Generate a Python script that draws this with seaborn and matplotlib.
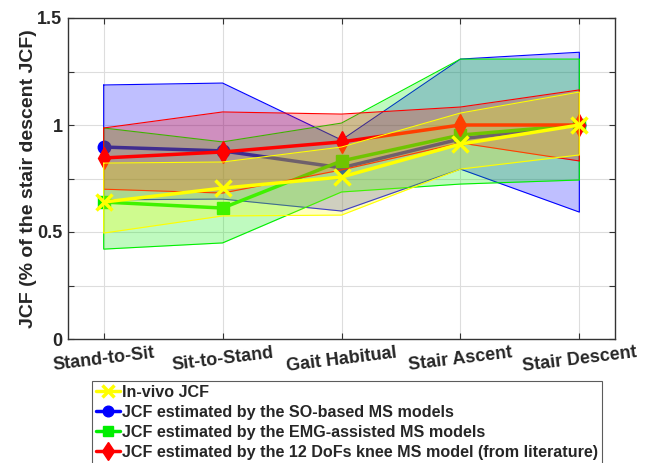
import numpy as np
import matplotlib
matplotlib.use("Agg")
import matplotlib.pyplot as plt
import seaborn as sns

tasks = ["Stand-to-Sit", "Sit-to-Stand", "Gait Habitual", "Stair Ascent", "Stair Descent"]

# in-vivo JCF (normalised to stair descent)
invivo_mean = [0.64, 0.705, 0.757, 0.911, 1.0]
invivo_low = [0.495, 0.575, 0.579, 0.794, 0.86]
invivo_high = [0.822, 0.827, 0.897, 1.056, 1.154]

# SO-based MS models
so_mean = [0.897, 0.879, 0.80, 0.935, 1.0]
so_low = [0.65, 0.654, 0.598, 0.794, 0.593]
so_high = [1.187, 1.196, 0.93, 1.308, 1.34]

# EMG-assisted MS models
emg_mean = [0.64, 0.612, 0.832, 0.953, 1.0]
emg_low = [0.42, 0.449, 0.687, 0.724, 0.743]
emg_high = [0.986, 0.921, 1.009, 1.308, 1.308]

# 12 DoFs knee MS model (literature)
dof_mean = [0.846, 0.874, 0.921, 1.0, 1.0]
dof_low = [0.70, 0.682, 0.79, 0.916, 0.832]
dof_high = [0.986, 1.061, 1.051, 1.084, 1.164]

labels = [
    "In-vivo JCF",
    "JCF estimated by the SO-based MS models",
    "JCF estimated by the EMG-assisted MS models",
    "JCF estimated by the 12 DoFs knee MS model (from literature)",
]

sns.set_style("whitegrid")
plt.rcParams["font.family"] = ["Liberation Sans", "DejaVu Sans"]
plt.rcParams["font.weight"] = "bold"

fig = plt.figure(figsize=(6.49, 4.63), dpi=100)
ax = fig.add_axes([68 / 649, 1 - 339 / 463, (615 - 68) / 649, (339 - 18) / 463])

x = np.arange(1, len(tasks) + 1)

# drawing order: blue, green, red, yellow - each fill covers the earlier lines
series = [
    (so_mean, so_low, so_high, "#0000ff", "o", 9, labels[1]),
    (emg_mean, emg_low, emg_high, "#00ee00", "s", 8, labels[2]),
    (dof_mean, dof_low, dof_high, "#ff0000", "d", 11, labels[3]),
    (invivo_mean, invivo_low, invivo_high, "#ffff00", "x", 11, labels[0]),
]

handles = {}
z = 2
for mean, low, high, col, mk, ms, lab in series:
    ax.fill_between(x, low, high, color=col, alpha=0.25, lw=0, zorder=z)
    edge_x = np.r_[x, x[::-1], x[0]]
    edge_y = np.r_[high, low[::-1], high[0]]
    ax.plot(edge_x, edge_y, color=col, lw=0.8, zorder=z + 1)
    sns.lineplot(x=x, y=mean, ax=ax, color=col, marker=mk, markersize=ms,
                 markeredgecolor=col, markeredgewidth=2.5 if mk == "x" else 1,
                 lw=2.5, label=lab, legend=False, zorder=z + 2)
    handles[lab] = ax.lines[-1]
    z += 3

ax.set_xlim(0.7, 5.3)
ax.set_ylim(0, 1.5)
ax.set_xticks(x)
ax.set_xticklabels(tasks, rotation=7, fontsize=13, fontweight="bold", color="#262626")
ax.set_yticks(np.arange(0, 1.51, 0.25))
ax.set_yticklabels(["0", "", "0.5", "", "1", "", "1.5"], fontsize=13,
                   fontweight="bold", color="#262626")
ax.set_ylabel("JCF (% of the stair descent JCF)", fontsize=14, fontweight="bold",
              color="#262626", labelpad=0)
ax.tick_params(axis="both", direction="in", length=4, top=True, right=True,
               bottom=True, left=True, color="#333333", pad=4)
ax.grid(True, color="#dddddd", lw=0.8)
for s in ax.spines.values():
    s.set_color("#333333")
    s.set_linewidth(1)

leg = fig.legend([handles[l] for l in labels], labels,
                 loc="upper left", bbox_to_anchor=(92 / 649, 1 - 381 / 463),
                 fontsize=11.6, frameon=True, fancybox=False, edgecolor="#333333",
                 handlelength=1.5, handletextpad=0.1, labelspacing=0.3,
                 borderpad=0.25, borderaxespad=0, markerscale=0.85)
leg.get_frame().set_linewidth(0.8)
for t in leg.get_texts():
    t.set_fontweight("bold")

fig.savefig("out.png", dpi=100)
